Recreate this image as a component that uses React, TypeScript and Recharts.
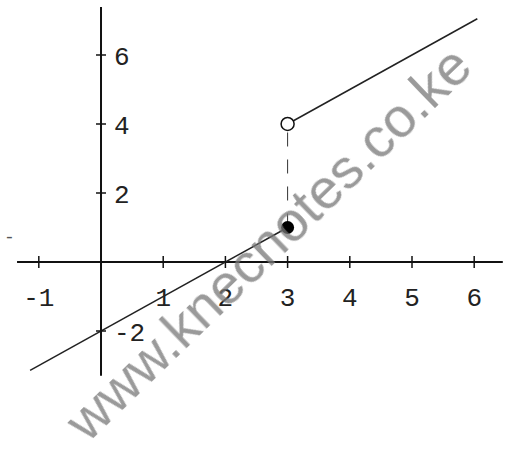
import { ComposedChart, Line, XAxis, YAxis, ReferenceLine, ReferenceDot } from "recharts";

// piecewise function: y = x - 2 for x <= 3, y = x + 1 for x > 3
const lowerPiece = [
  { x: -1.14, y: -3.14 },
  { x: 3, y: 1 },
];
const upperPiece = [
  { x: 3, y: 4 },
  { x: 6.05, y: 7.05 },
];
const jumpLine = [
  { x: 3, y: 1 },
  { x: 3, y: 4 },
];
const closedPoint = [{ x: 3, y: 1 }];
const openPoint = [{ x: 3, y: 4 }];

const xTicks = [-1, 1, 2, 3, 4, 5, 6];
const yTicks = [-2, 2, 4, 6];
const xAxisExtent = [-1.35, 6.46];
const yAxisExtent = [-3.3, 7.39];

const INK = "#111";
const tickFont = "'Liberation Mono', 'Courier New', monospace";

const XTickMark = (props: any) => {
  const { cx, cy, label } = props;
  return (
    <g>
      <line x1={cx} y1={cy - 6} x2={cx} y2={cy + 6} stroke={INK} strokeWidth={1.5} />
      <text x={cx} y={cy + 44} textAnchor="middle" fontFamily={tickFont} fontSize={26} fill="#222">
        {label}
      </text>
    </g>
  );
};

const YTickMark = (props: any) => {
  const { cx, cy, label } = props;
  return (
    <g>
      <line x1={cx - 5} y1={cy} x2={cx + 5} y2={cy} stroke={INK} strokeWidth={1.5} />
      <text x={cx + 13} y={cy + 10} textAnchor="start" fontFamily={tickFont} fontSize={26} fill="#222">
        {label}
      </text>
    </g>
  );
};

const ClosedDot = (props: any) => (
  <circle key={"c" + props.index} cx={props.cx} cy={props.cy} r={6.5} fill="#000" stroke="none" />
);
const OpenDot = (props: any) => (
  <circle key={"o" + props.index} cx={props.cx} cy={props.cy} r={6.5} fill="#fff" stroke={INK} strokeWidth={1.5} />
);

const fmt = (t: number) => (t < 0 ? "-" + -t : String(t));

export default function App() {
  return (
    <div style={{ position: "absolute", left: 0, top: 0, width: 515, height: 460, background: "#fff", overflow: "hidden" }}>
      <ComposedChart width={515} height={460} margin={{ top: 0, right: 0, bottom: 0, left: 0 }}>
        <XAxis type="number" dataKey="x" domain={[-1.624, 6.656]} hide allowDataOverflow />
        <YAxis type="number" dataKey="y" domain={[-5.739, 7.594]} hide allowDataOverflow />

        <ReferenceLine
          segment={[
            { x: xAxisExtent[0], y: 0 },
            { x: xAxisExtent[1], y: 0 },
          ]}
          stroke={INK}
          strokeWidth={2}
        />
        <ReferenceLine
          segment={[
            { x: 0, y: yAxisExtent[0] },
            { x: 0, y: yAxisExtent[1] },
          ]}
          stroke={INK}
          strokeWidth={2}
        />
        {xTicks.map((t) => (
          <ReferenceDot key={"x" + t} x={t} y={0} shape={(p: any) => <XTickMark {...p} label={fmt(t)} />} />
        ))}
        {yTicks.map((t) => (
          <ReferenceDot key={"y" + t} x={0} y={t} shape={(p: any) => <YTickMark {...p} label={fmt(t)} />} />
        ))}

        <Line data={lowerPiece} dataKey="y" stroke="#222" strokeWidth={1.5} dot={false} activeDot={false} isAnimationActive={false} />
        <Line data={upperPiece} dataKey="y" stroke="#222" strokeWidth={1.5} dot={false} activeDot={false} isAnimationActive={false} />
        <Line
          data={jumpLine}
          dataKey="y"
          stroke="#333"
          strokeWidth={1}
          strokeDasharray="14 13"
          dot={false}
          activeDot={false}
          isAnimationActive={false}
        />
        <Line data={closedPoint} dataKey="y" stroke="none" dot={ClosedDot} activeDot={false} isAnimationActive={false} />
        <Line data={openPoint} dataKey="y" stroke="none" dot={OpenDot} activeDot={false} isAnimationActive={false} />
      </ComposedChart>

      <div
        style={{
          position: "absolute",
          left: 4,
          top: 228,
          width: 20,
          fontFamily: tickFont,
          fontSize: 18,
          color: "#555",
          lineHeight: "20px",
        }}
      >
        -
      </div>
      <div
        style={{
          position: "absolute",
          left: 268,
          top: 243,
          transform: "translate(-50%, -50%) rotate(-44deg)",
          fontFamily: "'Liberation Sans', Arial, sans-serif",
          fontSize: 56,
          lineHeight: "60px",
          color: "rgba(120,120,120,0.75)",
          whiteSpace: "nowrap",
          filter: "blur(0.7px)",
          pointerEvents: "none",
        }}
      >
        www.knecnotes.co.ke
      </div>
    </div>
  );
}
